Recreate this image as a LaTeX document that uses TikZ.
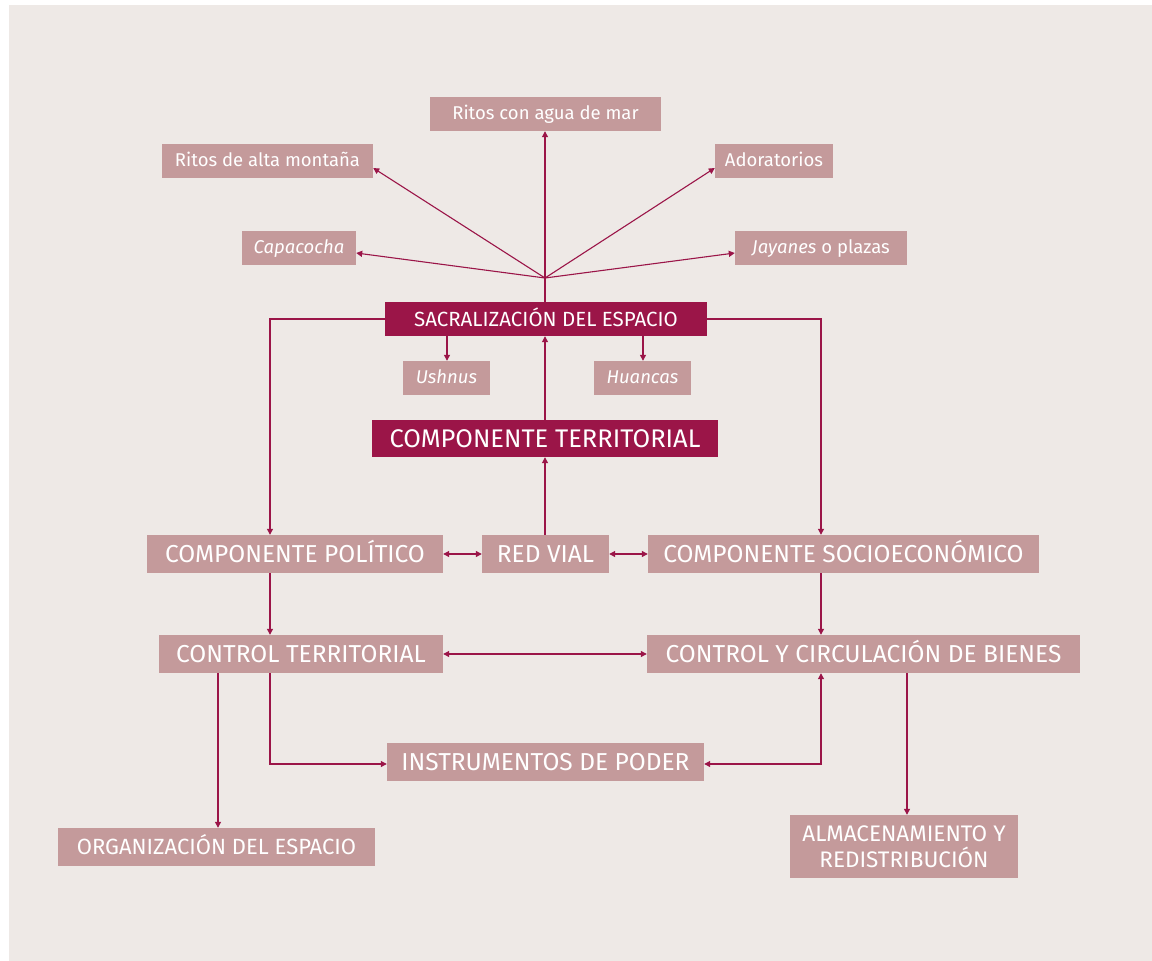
\documentclass[tikz,border=0pt]{standalone}
\usepackage{fontspec}
\setmainfont{Fira Sans}
\usetikzlibrary{arrows.meta}
\definecolor{bg}{HTML}{EEE9E6}
\definecolor{dark}{HTML}{9B1548}
\definecolor{light}{HTML}{C49A9B}
\begin{document}
\begin{tikzpicture}[x=1pt,y=-1pt,
  lbox/.style={fill=light,text=white,inner sep=0pt,text height=13pt,text depth=3pt,font=\fontsize{18.5}{20}\selectfont},
  bbox/.style={fill=light,text=white,inner sep=0pt,text height=17pt,text depth=0pt,font=\fontsize{24.5}{26}\selectfont},
  dbox/.style={fill=dark,text=white,inner sep=0pt,text depth=0pt},
  conn/.style={draw=dark,line width=1.1pt},
  arr/.style={conn,-{Triangle[length=6pt,width=6pt]}},
  darr/.style={conn,{Triangle[length=6pt,width=6pt]}-{Triangle[length=6pt,width=6pt]}}]
\useasboundingbox (0,0) rectangle (1152,961);
\fill[white] (0,0) rectangle (1152,961);
\fill[bg] (9,5) rectangle (1152,961);
% top labels
\node[lbox,minimum width=231,minimum height=34] (agua) at (545.5,114) {Ritos con agua de mar};
\node[lbox,minimum width=211,minimum height=34] (alta) at (267.5,161) {Ritos de alta montaña};
\node[lbox,minimum width=118,minimum height=34] (ador) at (774,161) {Adoratorios};
\node[lbox,minimum width=114,minimum height=34] (capa) at (299,248) {\itshape Capacocha};
\node[lbox,minimum width=172,minimum height=34] (jay) at (821,248) {\textit{Jayanes} o plazas};
\node[dbox,minimum width=322,minimum height=34,text height=14.2pt,font=\fontsize{20.5}{22}\selectfont] (sacra) at (546,319) {SACRALIZACIÓN DEL ESPACIO};
\node[lbox,minimum width=87,minimum height=34] (ush) at (446.5,378) {\itshape Ushnus};
\node[lbox,minimum width=97,minimum height=34] (hua) at (642.5,378) {\itshape Huancas};
\node[dbox,minimum width=346,minimum height=37,text height=17.6pt,font=\fontsize{25.5}{27}\selectfont] (terr) at (545,438.5) {COMPONENTE TERRITORIAL};
\node[bbox,minimum width=296,minimum height=38] (pol) at (295,554) {COMPONENTE POLÍTICO};
\node[bbox,minimum width=127,minimum height=38] (red) at (545.5,554) {RED VIAL};
\node[bbox,minimum width=391,minimum height=38] (soc) at (843.5,554) {COMPONENTE SOCIOECONÓMICO};
\node[bbox,minimum width=284,minimum height=38] (ctrl) at (301,654) {CONTROL TERRITORIAL};
\node[bbox,minimum width=433,minimum height=38] (circ) at (863.5,654) {CONTROL Y CIRCULACIÓN DE BIENES};
\node[bbox,minimum width=317,minimum height=38] (inst) at (545.5,762) {INSTRUMENTOS DE PODER};
\node[bbox,minimum width=317,minimum height=38,text height=15.2pt,font=\fontsize{22}{24}\selectfont] (org) at (216.5,847) {ORGANIZACIÓN DEL ESPACIO};
\node[fill=light,text=white,inner sep=0pt,minimum width=228,minimum height=63,align=center,font=\fontsize{22.5}{26}\selectfont] (alm) at (904,846.5) {ALMACENAMIENTO Y\\REDISTRIBUCIÓN};
% hub
\coordinate (hub) at (545,278);
\draw[conn] (sacra.north -| hub) -- (hub);
\draw[arr] (hub) -- (agua.south -| hub);
\draw[arr] (hub) -- (alta.east |- 0,168);
\draw[arr] (hub) -- (ador.west |- 0,168);
\draw[arr] (hub) -- (capa.east |- 0,253);
\draw[arr] (hub) -- (jay.west |- 0,253);
% sacra connections
\draw[arr] (sacra.west) -| (pol.north -| 270,0);
\draw[arr] (sacra.east) -| (soc.north -| 821,0);
\draw[arr] (sacra.south -| 447,0) -- (ush.north -| 447,0);
\draw[arr] (sacra.south -| 643,0) -- (hua.north -| 643,0);
\draw[arr] (terr.north -| hub) -- (sacra.south -| hub);
\draw[arr] (red.north -| hub) -- (terr.south -| hub);
\draw[darr] (pol.east) -- (red.west);
\draw[darr] (red.east) -- (soc.west);
\draw[arr] (pol.south -| 270,0) -- (ctrl.north -| 270,0);
\draw[arr] (soc.south -| 821,0) -- (circ.north -| 821,0);
\draw[darr] (ctrl.east) -- (circ.west);
\draw[arr] (ctrl.south -| 218,0) -- (org.north -| 218,0);
\draw[arr] (ctrl.south -| 270,0) |- (inst.west |- 0,764);
\draw[darr] (inst.east |- 0,764) -| (circ.south -| 821,0);
\draw[arr] (circ.south -| 907,0) -- (alm.north -| 907,0);
\end{tikzpicture}
\end{document}
